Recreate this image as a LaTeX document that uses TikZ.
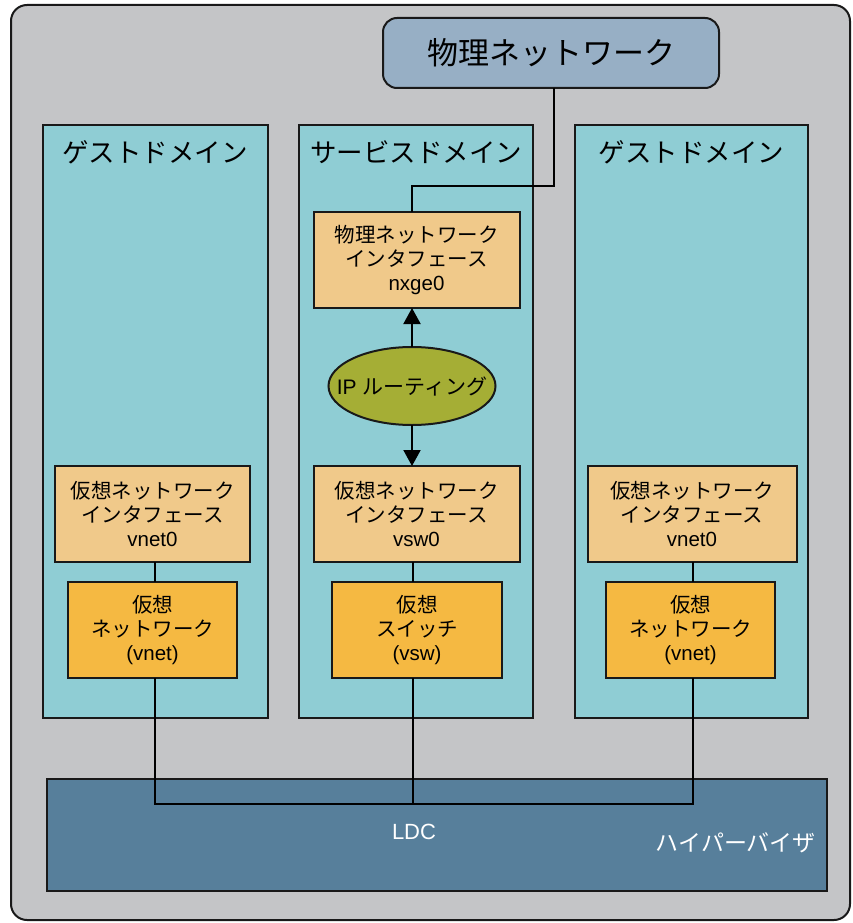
\documentclass[tikz,border=0pt]{standalone}
\usepackage{fontspec}
\setmainfont{Liberation Sans}
\newfontfamily\jp{Noto Sans CJK JP}
\usetikzlibrary{shapes.geometric,arrows.meta}
\definecolor{outerc}{HTML}{C4C5C7}
\definecolor{domc}{HTML}{8FCDD4}
\definecolor{physc}{HTML}{97AFC5}
\definecolor{nicc}{HTML}{F0C98A}
\definecolor{vnc}{HTML}{F5B942}
\definecolor{ellc}{HTML}{A5AE35}
\definecolor{hypc}{HTML}{577F9B}
\begin{document}
\begin{tikzpicture}[x=1pt,y=-1pt,
  base/.style={draw=black!90, line width=2pt, inner sep=0pt, outer sep=0pt},
  outerbox/.style={base, fill=outerc, rounded corners=16pt},
  physbox/.style={base, fill=physc, rounded corners=14pt, font=\fontsize{31}{34}\selectfont\jp},
  dombox/.style={base, fill=domc},
  domtitle/.style={inner sep=0pt, font=\fontsize{26.5}{28}\selectfont\jp},
  nicbox/.style={base, fill=nicc, align=center, font=\fontsize{20.5}{24}\selectfont},
  vnbox/.style={base, fill=vnc, align=center, font=\fontsize{20.5}{24}\selectfont},
  ellbox/.style={base, ellipse, fill=ellc},
  conn/.style={line width=2pt, draw=black},
  arr/.style={conn, -{Triangle[width=17pt,length=16pt]}}
]
\useasboundingbox (0,0) rectangle (852,923);
\node[outerbox, minimum width=839pt, minimum height=915pt] (frame) at (430.5,462.5) {};
\node[physbox, minimum width=336pt, minimum height=70pt] (pn) at (551,53) {物理ネットワーク};

\node[dombox, minimum width=225pt, minimum height=593pt] (d1) at (155,421.5) {};
\node[dombox, minimum width=234pt, minimum height=593pt] (d2) at (416,421.5) {};
\node[dombox, minimum width=233pt, minimum height=593pt] (d3) at (691.5,421.5) {};
\node[domtitle] (t1) at (155,152) {ゲストドメイン};
\node[domtitle] (t2) at (416,152) {サービスドメイン};
\node[domtitle] (t3) at (691.5,152) {ゲストドメイン};

\node[nicbox, minimum width=206pt, minimum height=96pt] (nic) at (416.5,260) {{\jp 物理ネットワーク}\\{\jp インタフェース}\\nxge0};
\node[ellbox, minimum width=167pt, minimum height=78pt] (ip) at (412,386) {};
\node[inner sep=0pt, font=\fontsize{21}{24}\selectfont] (iptext) at (ip.center) {IP {\jp ルーティング}};

\node[nicbox, minimum width=195pt, minimum height=96pt] (if1) at (152.5,514) {{\jp 仮想ネットワーク}\\{\jp インタフェース}\\vnet0};
\node[nicbox, minimum width=206pt, minimum height=96pt] (if2) at (416.5,514) {{\jp 仮想ネットワーク}\\{\jp インタフェース}\\vsw0};
\node[nicbox, minimum width=209pt, minimum height=96pt] (if3) at (692,514) {{\jp 仮想ネットワーク}\\{\jp インタフェース}\\vnet0};

\node[vnbox, minimum width=169pt, minimum height=96pt] (vn1) at (152.5,630) {{\jp 仮想}\\{\jp ネットワーク}\\(vnet)};
\node[vnbox, minimum width=170pt, minimum height=96pt] (vs) at (417,630) {{\jp 仮想}\\{\jp スイッチ}\\(vsw)};
\node[vnbox, minimum width=169pt, minimum height=96pt] (vn3) at (690.5,630) {{\jp 仮想}\\{\jp ネットワーク}\\(vnet)};

\node[base, fill=hypc, minimum width=780pt, minimum height=112pt] (hyp) at (437,835) {};
\node[text=white, font=\fontsize{22}{24}\selectfont, inner sep=0pt] (ldc) at (414,832) {LDC};
\node[text=white, font=\fontsize{23}{26}\selectfont\jp, inner sep=0pt, anchor=east] (hv) at (816,843) {ハイパーバイザ};

\coordinate (pa) at (554,186);
\coordinate (pb) at (412,186);
\coordinate (bus) at (413,804);

\draw[conn] (pn.south -| pa) -- (pa) -- (pb) -- (nic.north -| pb);
\draw[arr] (ip.north) -- (nic.south -| ip.north);
\draw[arr] (ip.south) -- (if2.north -| ip.south);
\draw[conn] (if1.south -| 155,0) -- (vn1.north -| 155,0);
\draw[conn] (if2.south -| bus) -- (vs.north -| bus);
\draw[conn] (if3.south -| 693,0) -- (vn3.north -| 693,0);
\draw[conn] (vn1.south -| 155,0) |- (bus) -| (vn3.south -| 693,0);
\draw[conn] (vs.south -| bus) -- (bus);
\end{tikzpicture}
\end{document}
